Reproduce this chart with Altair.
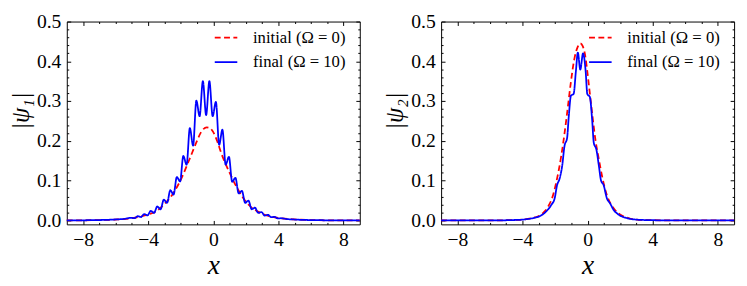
import altair as alt
import pandas as pd

SERIES = ["initial (Ω = 0)", "final (Ω = 10)"]

# ---- left panel |psi_1| ----
x1_init = [-9, -8, -7, -6, -5.5, -5, -4.5, -4, -3.5, -3, -2.5, -2, -1.5, -1, -0.75,
           -0.4, -0.2, 0, 0.25, 0.5, 1, 1.5, 2, 2.5, 3, 3.5, 4, 5, 6, 7, 8, 9]
y1_init = [0.0001, 0.0003, 0.0008, 0.0022, 0.0035, 0.0057, 0.0092, 0.015, 0.023, 0.041,
           0.066, 0.102, 0.15, 0.2, 0.222, 0.234, 0.232, 0.222, 0.198, 0.168, 0.12,
           0.079, 0.047, 0.028, 0.017, 0.010, 0.006, 0.0024, 0.0009, 0.0003, 0.0001, 0.00004]

x1_final = [-9, -8, -7, -6, -5.5, -5.04, -4.84, -4.64, -4.44, -4.24, -4.04, -3.84, -3.64,
            -3.44, -3.24, -3.04, -2.84, -2.64, -2.44, -2.24, -2.04, -1.84, -1.64, -1.44,
            -1.24, -1.04, -0.84, -0.64, -0.44, -0.24, -0.04, 0.16, 0.36, 0.56, 0.76, 0.96,
            1.16, 1.36, 1.56, 1.76, 1.96, 2.16, 2.36, 2.56, 2.76, 2.96, 3.16, 3.36, 3.56,
            3.76, 3.96, 4.16, 4.5, 5, 6, 7, 8, 9]
y1_final = [0.0001, 0.0003, 0.0009, 0.0024, 0.0038, 0.0065, 0.0055, 0.0105, 0.0085, 0.016,
            0.0125, 0.024, 0.019, 0.035, 0.028, 0.052, 0.044, 0.076, 0.065, 0.109, 0.098,
            0.162, 0.140, 0.232, 0.188, 0.301, 0.262, 0.350, 0.265, 0.350, 0.262, 0.298,
            0.190, 0.228, 0.140, 0.160, 0.097, 0.107, 0.068, 0.074, 0.044, 0.050, 0.028,
            0.032, 0.019, 0.021, 0.012, 0.014, 0.008, 0.009, 0.005, 0.0055, 0.0035, 0.0022,
            0.0008, 0.0003, 0.0001, 0.00004]

# ---- right panel |psi_2| ----
x2_init = [-9, -7, -6, -5, -4.5, -4, -3.5, -3, -2.7, -2.42, -2.12, -1.92, -1.62, -1.42,
           -1.22, -1.02, -0.82, -0.62, -0.45, -0.3, -0.15, -0.02, 0.14, 0.28, 0.48, 0.69,
           0.88, 1.18, 1.59, 1.99, 2.5, 3, 4, 5, 7, 9]
y2_init = [0, 0, 0.0001, 0.0005, 0.001, 0.002, 0.005, 0.011, 0.02, 0.035, 0.064, 0.097,
           0.162, 0.218, 0.283, 0.35, 0.405, 0.435, 0.445, 0.438, 0.415, 0.375, 0.318,
           0.269, 0.203, 0.154, 0.113, 0.064, 0.031, 0.015, 0.006, 0.002, 0.0005, 0.0001, 0, 0]

x2_final = [-9, -7, -6, -5, -4.5, -4, -3.33, -2.92, -2.53, -2.23, -2.02, -1.88, -1.72,
            -1.56, -1.42, -1.26, -1.16, -1.02, -0.86, -0.72, -0.6, -0.45, -0.28, -0.12,
            -0.02, 0.14, 0.28, 0.38, 0.54, 0.69, 0.82, 0.99, 1.18, 1.38, 1.59, 1.89, 2.4,
            3, 4, 5, 7, 9]
y2_final = [0, 0, 0.0001, 0.0004, 0.001, 0.002, 0.006, 0.011, 0.023, 0.039, 0.056, 0.088,
            0.105, 0.138, 0.187, 0.207, 0.26, 0.314, 0.318, 0.375, 0.422, 0.379, 0.42,
            0.375, 0.318, 0.31, 0.252, 0.195, 0.178, 0.138, 0.101, 0.088, 0.056, 0.043,
            0.027, 0.015, 0.006, 0.002, 0.0005, 0.0001, 0, 0]

X_MAJOR = [-8, -4, 0, 4, 8]
X_MINOR = [-7, -6, -5, -3, -2, -1, 1, 2, 3, 5, 6, 7]
Y_MAJOR = [0.0, 0.1, 0.2, 0.3, 0.4, 0.5]
Y_MINOR = [0.02, 0.04, 0.06, 0.08, 0.12, 0.14, 0.16, 0.18, 0.22, 0.24, 0.26, 0.28,
           0.32, 0.34, 0.36, 0.38, 0.42, 0.44, 0.46, 0.48]

FONT = "'Liberation Serif', 'DejaVu Serif', serif"
AXFONT = "serif"
W, H = 299, 207
MAJ, MIN = 4, 2


def frame(xi, yi, xf, yf):
    return pd.DataFrame({
        "x": xi + xf,
        "y": yi + yf,
        "s": [SERIES[0]] * len(xi) + [SERIES[1]] * len(xf),
    })


def tick_axis(orient, values, size, **kw):
    base = dict(orient=orient, values=values, tickSize=size, offset=-size,
                domain=False, grid=False, labels=False, ticks=True,
                tickColor="black", tickWidth=1, minExtent=0, title=None)
    base.update(kw)
    return alt.Axis(**base)


def panel(df, ytitle):
    xs = alt.Scale(domain=[-9, 9], nice=False, zero=False)
    ys = alt.Scale(domain=[-0.01, 0.5], nice=False, zero=False)

    leg = alt.Legend(title=None, orient="none", legendX=150, legendY=4, padding=0,
                     labelFont=FONT, labelFontSize=17, labelColor="black",
                     symbolType="stroke", symbolSize=529, symbolStrokeWidth=1.8,
                     labelOffset=15, rowPadding=4)

    x_main = dict(labels=True, format="d", labelFont=AXFONT, labelFontSize=20,
                  labelColor="black", labelPadding=6, labelFlush=False,
                  title="x", titleFont=AXFONT, titleFontSize=28, titleFontStyle="italic",
                  titleFontWeight="normal", titleColor="black", titleY=54,
                  titleBaseline="alphabetic")
    y_main = dict(labels=True, format=".1f", labelFont=AXFONT, labelFontSize=20,
                  labelColor="black", labelPadding=6, labelFlush=False,
                  title=ytitle, titleFont=AXFONT, titleFontSize=25, titleFontStyle="italic",
                  titleFontWeight="normal", titleColor="black", titleX=-51, titleY=91,
                  titleBaseline="middle")

    lines = alt.Chart(df).mark_line(strokeWidth=1.8, interpolate="monotone").encode(
        x=alt.X("x:Q", scale=xs, axis=tick_axis("bottom", X_MAJOR, MAJ, **x_main)),
        y=alt.Y("y:Q", scale=ys, axis=tick_axis("left", Y_MAJOR, MAJ, **y_main)),
        color=alt.Color("s:N", scale=alt.Scale(domain=SERIES, range=["#ff0000", "#0000ff"]),
                        sort=SERIES, legend=leg),
        strokeDash=alt.StrokeDash("s:N", scale=alt.Scale(domain=SERIES, range=[[6, 3.5], [1, 0]]),
                                  sort=SERIES, legend=leg),
    )

    def ghost(xa, ya):
        return alt.Chart(df).mark_line(opacity=0).encode(
            x=alt.X("x:Q", scale=xs, axis=xa),
            y=alt.Y("y:Q", scale=ys, axis=ya),
            detail="s:N",
        )

    g1 = ghost(tick_axis("bottom", X_MINOR, MIN), tick_axis("left", Y_MINOR, MIN))
    g2 = ghost(tick_axis("top", X_MAJOR, MAJ), tick_axis("right", Y_MAJOR, MAJ))
    g3 = ghost(tick_axis("top", X_MINOR, MIN), tick_axis("right", Y_MINOR, MIN))

    return alt.layer(lines, g1, g2, g3).resolve_axis(
        x="independent", y="independent").properties(width=W, height=H)


left = panel(frame(x1_init, y1_init, x1_final, y1_final), "|ψ₁|")
right = panel(frame(x2_init, y2_init, x2_final, y2_final), "|ψ₂|")

chart = alt.hconcat(left, right, spacing=83, bounds="flush").resolve_scale(
    color="independent", strokeDash="independent"
).resolve_legend(
    color="independent", strokeDash="independent"
).properties(padding=0).configure_axis(
    labelFont=AXFONT, titleFont=AXFONT
).configure_legend(labelFont=FONT).configure_view(stroke="black", strokeWidth=1)

chart.save("out.html", embed_options={"renderer": "svg", "actions": False})
